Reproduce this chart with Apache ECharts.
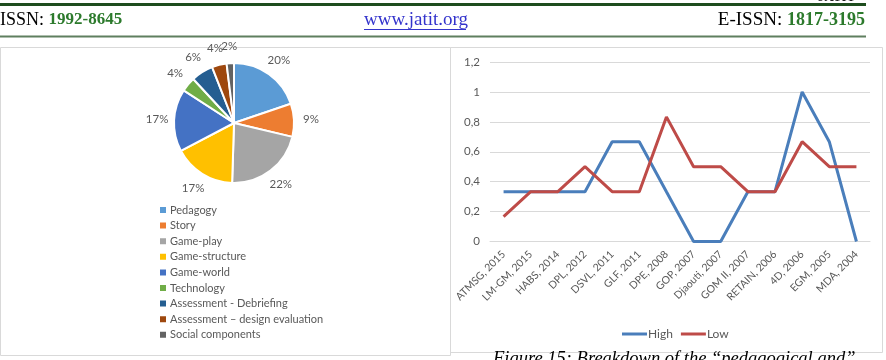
<!DOCTYPE html>
<html>
<head>
<meta charset="utf-8">
<script src="https://cdn.jsdelivr.net/npm/echarts@6/dist/echarts.min.js"></script>
<style>
html,body{margin:0;padding:0;background:#fff;}
#c{width:886px;height:360px;}
</style>
</head>
<body>
<div id="c"></div>
<script>
// ---- data ----
var pieNames = ['Pedagogy','Story','Game-play','Game-structure','Game-world','Technology','Assessment - Debriefing','Assessment \u2013 design evaluation','Social components'];
var pieValues = [20, 9, 22, 17, 17, 4, 6, 4, 2];
var pieColors = ['#5B9BD5','#ED7D31','#A5A5A5','#FFC000','#4472C4','#70AD47','#255E91','#9E480E','#636363'];

var models = ['ATMSG, 2015','LM-GM, 2015','HABS, 2014','DPL, 2012','DSVL, 2011','GLF, 2011','DPE, 2008','GOP, 2007','Djaouti, 2007','GOM II, 2007','RETAIN, 2006','4D, 2006','EGM, 2005','MDA, 2004'];
var highValues = [0.333, 0.333, 0.333, 0.333, 0.667, 0.667, 0.333, 0, 0, 0.333, 0.333, 1, 0.667, 0];
var lowValues  = [0.167, 0.333, 0.333, 0.5, 0.333, 0.333, 0.833, 0.5, 0.5, 0.333, 0.333, 0.667, 0.5, 0.5];
var yTicks = ['0','0,2','0,4','0,6','0,8','1','1,2'];

var chart = echarts.init(document.getElementById('c'), null, {renderer:'canvas'});
var FONT = 'Lato';
var serif = 'Liberation Serif';

var pieData = pieNames.map(function(n,i){return {name:n, value:pieValues[i], itemStyle:{color:pieColors[i]}};});
var pieLabelData = pieNames.map(function(n,i){return {name:n, value:pieValues[i]};});

var option = {
  backgroundColor:'#fff',
  animation:false,
  graphic:[
    // top dark line
    {type:'rect', shape:{x:0,y:3,width:866,height:3}, style:{fill:'#1E4D1E'}},
    {type:'text', left:818, top:-9, style:{text:'JATIT', font:'bold 13px '+serif, fill:'#222'}},
    // header texts
    {type:'text', left:0, top:11, style:{rich:{a:{fontFamily:serif,fontSize:18,fill:'#000'},b:{fontFamily:serif,fontSize:17,fontWeight:'bold',fill:'#2C7A2C'}}, text:'{a|ISSN: }{b|1992-8645}'}},
    {type:'text', left:364, top:11, style:{text:'www.jatit.org', font:'19px '+serif, fill:'#3333CC'}},
    {type:'rect', shape:{x:364,y:29,width:102,height:1}, style:{fill:'#3333CC'}},
    {type:'text', right:21, top:11, style:{rich:{a:{fontFamily:serif,fontSize:19,fill:'#000'},b:{fontFamily:serif,fontSize:18,fontWeight:'bold',fill:'#2C7A2C'}}, text:'{a|E-ISSN: }{b|1817-3195}'}},
    // second line
    {type:'rect', shape:{x:0,y:35.5,width:866,height:2}, style:{fill:'#5F7F5F'}},
    // boxes
    {type:'rect', z:-1, shape:{x:0.5,y:47.5,width:450,height:308}, style:{fill:'none',stroke:'#D9D9D9',lineWidth:1}},
    {type:'rect', z:-1, shape:{x:450.5,y:47.5,width:432,height:305}, style:{fill:'none',stroke:'#D9D9D9',lineWidth:1}},
    // caption
    {type:'text', left:493, top:350, style:{text:'Figure 15: Breakdown of the \u201cpedagogical and\u201d', font:'italic 18.5px '+serif, fill:'#000'}}
  ],
  legend:[
    {
      data:pieNames, orient:'vertical', left:153, top:199,
      icon:'rect', itemWidth:8, itemHeight:8, itemGap:3.6,
      selectedMode:false,
      textStyle:{fontFamily:FONT, fontSize:11, color:'#595959', lineHeight:12, padding:[0,0,0,-2]}
    },
    {
      data:['High','Low'], orient:'horizontal', left:617, top:323,
      icon:'rect', itemWidth:25, itemHeight:3, itemGap:8,
      selectedMode:false,
      textStyle:{fontFamily:FONT, fontSize:12, color:'#595959', padding:[0,0,0,-4]}
    }
  ],
  grid:{left:490, right:16, top:62, bottom:118.5, containLabel:false},
  xAxis:{
    type:'category', data:models, boundaryGap:true,
    axisLine:{lineStyle:{color:'#D9D9D9'}},
    axisTick:{show:false},
    axisLabel:{rotate:45, interval:0, fontFamily:FONT, fontSize:10.5, color:'#595959', margin:11}
  },
  yAxis:{
    type:'value', min:0, max:1.2, interval:0.2,
    axisLine:{show:false}, axisTick:{show:false},
    splitLine:{lineStyle:{color:'#D9D9D9'}},
    axisLabel:{fontFamily:FONT, fontSize:11.5, color:'#595959', margin:10,
      formatter:function(v){var i=Math.round(v/0.2);return yTicks[i];}}
  },
  series:[
    {
      type:'pie', name:'Breakdown', center:[234,123], radius:60, startAngle:90, clockwise:true,
      data:pieData,
      itemStyle:{borderColor:'#fff', borderWidth:2},
      label:{show:false},
      labelLine:{show:false},
      emphasis:{disabled:true}
    },
    {
      type:'pie', name:'BreakdownLabels', center:[234,123], radius:[62,86], startAngle:90, clockwise:true,
      silent:true, avoidLabelOverlap:false,
      data:pieLabelData,
      itemStyle:{color:'rgba(0,0,0,0)', borderWidth:0},
      label:{show:true, position:'inside', formatter:'{c}%', fontFamily:FONT, fontSize:11.5, color:'#595959'},
      labelLine:{show:false},
      labelLayout:{hideOverlap:false},
      emphasis:{disabled:true}
    },
    {type:'line', name:'High', data:highValues, symbol:'none', lineStyle:{width:3, color:'#4A7EBB'}, itemStyle:{color:'#4A7EBB'}},
    {type:'line', name:'Low', data:lowValues, symbol:'none', lineStyle:{width:3, color:'#BE4B48'}, itemStyle:{color:'#BE4B48'}}
  ]
};
chart.setOption(option);
</script>
</body>
</html>
